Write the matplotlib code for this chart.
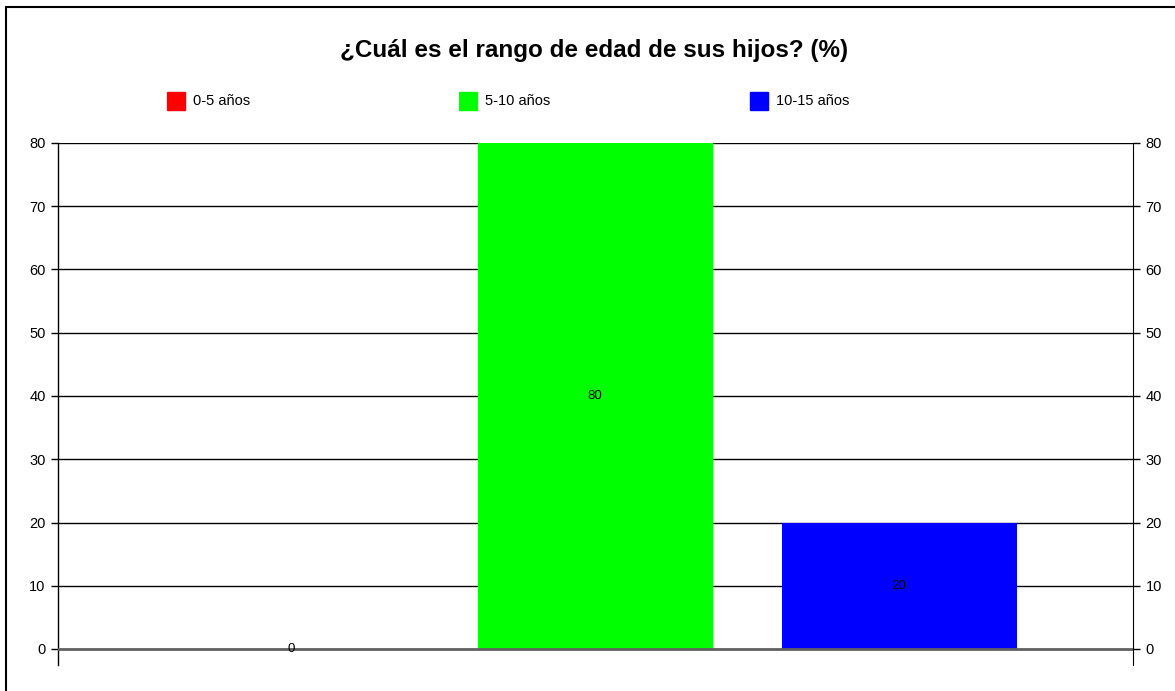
import matplotlib.pyplot as plt
from matplotlib.patches import Rectangle

plt.rcParams['font.family'] = ['Liberation Sans', 'DejaVu Sans']

# data
categories = ["0-5 años", "5-10 años", "10-15 años"]
values = [0, 80, 20]
colors = ["#ff0000", "#00ff00", "#0000ff"]
yticks = [0, 10, 20, 30, 40, 50, 60, 70, 80]

W, H = 1175, 691
fig = plt.figure(figsize=(W / 100, H / 100), dpi=100)

# outer frame (only left and top edges fall inside the picture)
fig.patches.append(Rectangle((6 / W, -0.05), 1.1, 1.05 - 7 / H, transform=fig.transFigure,
                             fill=False, edgecolor='black', lw=1.5, clip_on=False))

# plot area in pixels: x 58..1133, y 143 (80) .. 649 (0), spines to 665
ax = fig.add_axes([58 / W, (H - 665) / H, 1075 / W, (665 - 143) / H])
x = range(len(categories))
bars = ax.bar(x, values, width=235 / 304, color=colors, zorder=3)

ax.set_xlim(-233 / 304, 2 + 234 / 304)
ax.set_ylim(-16 * 80 / 506, 80)
ax.set_yticks(yticks)
ax.set_xticks([])
for y in yticks:
    if y == 0:
        ax.axhline(y, color='#606060', lw=2, zorder=4)
    else:
        ax.axhline(y, color='black', lw=1, zorder=1)

for s in ['top', 'bottom', 'right']:
    ax.spines[s].set_visible(False)
ax.spines['left'].set_linewidth(1)
ax.tick_params(axis='y', length=5, width=1, labelsize=10.5, pad=4)

ax2 = ax.twinx()
ax2.set_ylim(ax.get_ylim())
ax2.set_yticks(yticks)
for s in ['top', 'bottom', 'left']:
    ax2.spines[s].set_visible(False)
ax2.tick_params(axis='y', length=5, width=1, labelsize=10.5, pad=4)

# value labels centered in bars
for b, v in zip(bars, values):
    ax.text(b.get_x() + b.get_width() / 2, v / 2, str(v), ha='center', va='center',
            fontsize=9.5, zorder=5)

fig.text(594 / W, 1 - 50 / H, "¿Cuál es el rango de edad de sus hijos? (%)",
         ha='center', va='center', fontsize=17.5, fontweight='bold')

# legend
leg_x = [167, 459, 750]
for lx, lab, c in zip(leg_x, categories, colors):
    fig.patches.append(Rectangle((lx / W, 1 - 110 / H), 18 / W, 18 / H,
                                 transform=fig.transFigure, color=c))
    fig.text((lx + 26) / W, 1 - 101 / H, lab, ha='left', va='center', fontsize=10.5)

fig.savefig("out.png", dpi=100)
